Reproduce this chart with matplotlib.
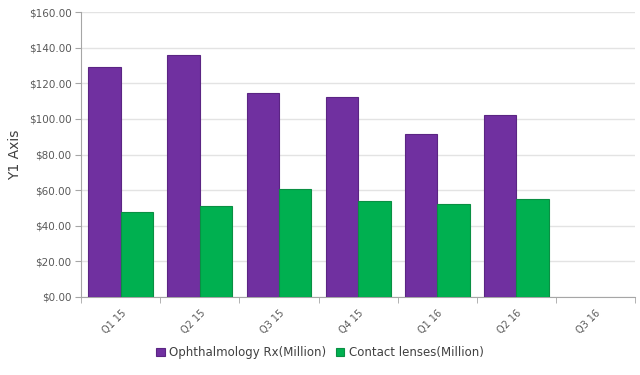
import numpy as np
import matplotlib.pyplot as plt
from matplotlib.ticker import FuncFormatter, MultipleLocator

quarters = ['Q1 15', 'Q2 15', 'Q3 15', 'Q4 15', 'Q1 16', 'Q2 16', 'Q3 16']
ophthalmology = [129.1, 135.8, 114.5, 112.3, 91.3, 102.2, np.nan]
contact_lenses = [47.8, 51.2, 60.4, 53.9, 52.2, 55.2, np.nan]

fig = plt.figure(figsize=(6.4, 3.75), dpi=100)
ax = fig.add_axes([0.127, 0.208, 0.865, 0.760])

x = np.arange(len(quarters))
w = 0.41
ax.bar(x - w / 2, ophthalmology, w, color='#7030A0', edgecolor='#5B2583', linewidth=0.8,
       label='Ophthalmology Rx(Million)', zorder=3)
ax.bar(x + w / 2, contact_lenses, w, color='#00B050', edgecolor='#0A8F43', linewidth=0.8,
       label='Contact lenses(Million)', zorder=3)

ax.set_xlim(-0.5, len(quarters) - 0.5)
ax.set_ylim(0, 160)
ax.yaxis.set_major_locator(MultipleLocator(20))
ax.yaxis.set_major_formatter(FuncFormatter(lambda v, p: '${:.2f}'.format(v)))
ax.grid(axis='y', color='#E3E3E3', linewidth=1, zorder=0)

ax.set_xticks(x)
ax.set_xticklabels(quarters, rotation=45, ha='right', rotation_mode='anchor')
ax.set_xticks(np.arange(len(quarters) + 1) - 0.5, minor=True)
ax.tick_params(axis='x', which='major', length=0, pad=8, labelsize=7, labelcolor='#595959')
ax.tick_params(axis='x', which='minor', length=4, color='#A6A6A6')
ax.tick_params(axis='y', length=4, color='#A6A6A6', labelsize=7.5, labelcolor='#595959', pad=3)

for s in ['top', 'right']:
    ax.spines[s].set_visible(False)
ax.spines['left'].set_color('#A6A6A6')
ax.spines['bottom'].set_color('#A6A6A6')

ax.set_ylabel('Y1 Axis', fontsize=10, color='#404040', labelpad=5)

fig.legend(loc='center', bbox_to_anchor=(0.5, 0.06), ncol=2, frameon=False, fontsize=8.5,
           handlelength=0.7, handleheight=0.7, handletextpad=0.4, columnspacing=0.8,
           labelcolor='#404040')

plt.savefig('out.png', dpi=100)
